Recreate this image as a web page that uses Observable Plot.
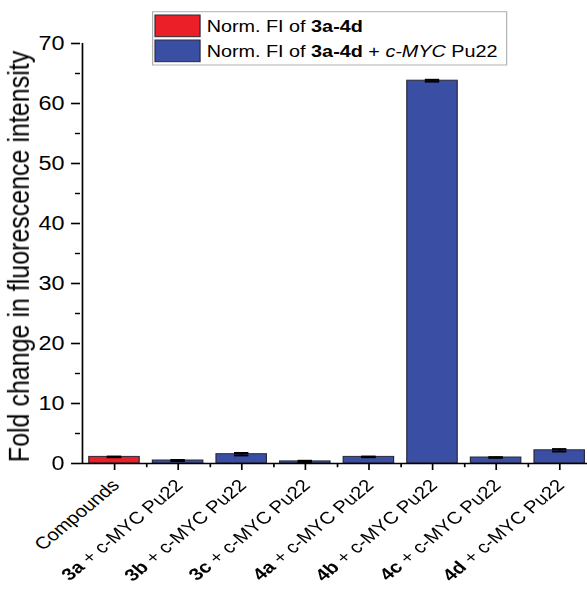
<!DOCTYPE html>
<html>
<head>
<meta charset="utf-8">
<script src="https://cdn.jsdelivr.net/npm/d3@7"></script>
<script src="https://cdn.jsdelivr.net/npm/@observablehq/plot@0.6"></script>
<style>
  html, body { margin: 0; padding: 0; background: #fff; overflow: hidden; }
  #wrap { width: 587px; height: 593px; overflow: hidden; position: relative; background: #fff; }
  #chart { transform: scaleX(1.2); transform-origin: 0 0; width: 495px; position: absolute; left: 0; top: 0; }
</style>
</head>
<body>
<div id="wrap"><div id="chart"></div></div>
<script>
// ---- data ----
const categories = ["Compounds", "3a", "3b", "3c", "4a", "4b", "4c", "4d"];
const values = [1.1, 0.5, 1.55, 0.35, 1.1, 63.8, 1.0, 2.2];
const errors = [0.05, 0.08, 0.2, 0.1, 0.05, 0.15, 0.05, 0.2];
const seriesOf = [0, 1, 1, 1, 1, 1, 1, 1];
const seriesNames = ["Norm. FI of 3a-4d", "Norm. FI of 3a-4d + c-MYC Pu22"];
const seriesColors = ["#ea1f27", "#3a4fa3"];
const yMajorTicks = [0, 10, 20, 30, 40, 50, 60, 70];
const yMinorTicks = [5, 15, 25, 35, 45, 55, 65];
const yTitle = "Fold change in fluorescence intensity";
const targetSuffix = " + c-MYC Pu22";

const table = categories.map((c, i) => ({
  cat: c, value: values[i], err: errors[i], series: seriesNames[seriesOf[i]]
}));
const tickLabel = c => c === "Compounds" ? c : c + targetSuffix;

// ---- layout ----
const W = 495, H = 593, mL = 66.7, mT = 43, mB = 130;
const step = (W - mL) / categories.length;
const font = "'Liberation Sans', Arial, sans-serif";

const svg = Plot.plot({
  width: W, height: H,
  marginLeft: mL, marginRight: 0, marginTop: mT, marginBottom: mB,
  style: {fontFamily: font, background: "white", overflow: "visible", color: "#000"},
  x: {domain: categories, paddingInner: 0.2, paddingOuter: 0.1, axis: null},
  y: {domain: [0, 70], axis: null},
  color: {domain: seriesNames, range: seriesColors},
  marks: [
    Plot.barY(table, {x: "cat", y: "value", fill: "series", stroke: "#2a2a3a", strokeWidth: 1}),
    Plot.ruleX(table, {x: "cat", y1: d => d.value - d.err, y2: d => d.value + d.err, stroke: "#000", strokeWidth: 1.5}),
    Plot.tickY(table, {x: "cat", y: d => d.value + d.err, stroke: "#000", strokeWidth: 2, insetLeft: 15, insetRight: 15}),
    Plot.tickY(table, {x: "cat", y: d => d.value - d.err, stroke: "#000", strokeWidth: 2, insetLeft: 15, insetRight: 15}),
    // axis lines
    Plot.ruleY([0], {stroke: "#000", strokeWidth: 1.6}),
    Plot.ruleX([categories[0]], {y1: 0, y2: 70, dx: -step / 2, stroke: "#000", strokeWidth: 1.4}),
    // minor x ticks at category boundaries
    Plot.ruleX(categories, {x: d => d, y1: 0, y2: -0.7, dx: step / 2, stroke: "#000", strokeWidth: 1.4}),
    // axes
    Plot.axisX({tickSize: 7, text: null, label: null, strokeWidth: 1.4}),
    Plot.axisX({tickSize: 0, tickPadding: 19, dx: 1, tickRotate: -45, textAnchor: "end", lineAnchor: "middle", fontSize: 17, tickFormat: tickLabel, label: null}),
    Plot.axisY({ticks: yMajorTicks, tickSize: 7.5, tickPadding: 6, fontSize: 19.5, label: null, strokeWidth: 1.6}),
    Plot.axisY({ticks: yMinorTicks, tickSize: 4.2, text: null, label: null, strokeWidth: 1.4}),
    Plot.text([yTitle], {frameAnchor: "left", rotate: -90, dx: 15.4 - mL, dy: 3, fontSize: 25, textAnchor: "middle", lineAnchor: "middle", fill: "#000"})
  ]
});

// bold compound ids in x tick labels
d3.select(svg).selectAll('g[aria-label="x-axis tick label"] text').each(function () {
  const t = this.textContent;
  const i = t.indexOf(" + ");
  if (i < 0) return;
  const s = d3.select(this);
  s.text(null);
  s.append("tspan").attr("font-weight", "bold").text(t.slice(0, i));
  s.append("tspan").text(t.slice(i));
});

// legend
const lg = d3.select(svg).append("g").attr("font-family", font).attr("font-size", 16.5).attr("text-anchor", "start");
lg.append("rect").attr("x", 127.2).attr("y", 11.7).attr("width", 295).attr("height", 53.3)
  .attr("fill", "#fff").attr("stroke", "#b0b0b0").attr("stroke-width", 1);
const rows = [
  {y: 15, base: 31.7, parts: [["Norm. FI of ", null], ["3a-4d", "b"]]},
  {y: 40, base: 56.7, parts: [["Norm. FI of ", null], ["3a-4d", "b"], [" + ", null], ["c-MYC", "i"], [" Pu22", null]]}
];
rows.forEach((r, k) => {
  lg.append("rect").attr("x", 129.2).attr("y", r.y).attr("width", 37.5).attr("height", 21.7)
    .attr("fill", seriesColors[k]).attr("stroke", "#2a2a3a").attr("stroke-width", 1);
  const t = lg.append("text").attr("x", 172.2).attr("y", r.base).attr("fill", "#000")
    .attr("text-anchor", "start").style("white-space", "pre");
  r.parts.forEach(([s, st]) => {
    const ts = t.append("tspan").text(s);
    if (st === "b") ts.attr("font-weight", "bold");
    if (st === "i") ts.attr("font-style", "italic");
  });
});

document.getElementById("chart").appendChild(svg);
</script>
</body>
</html>
